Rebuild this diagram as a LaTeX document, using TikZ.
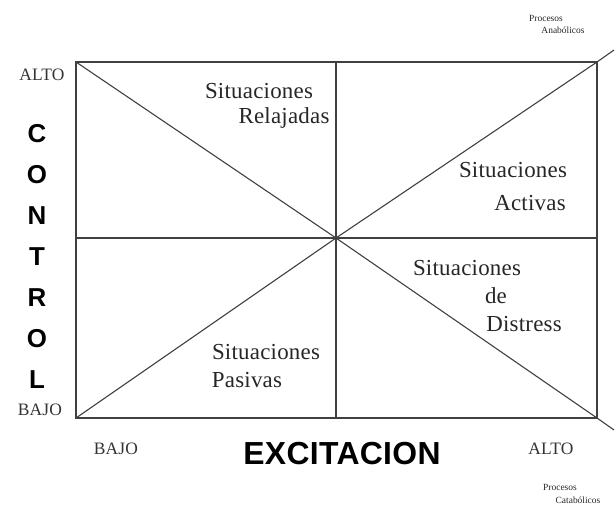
\documentclass[tikz,border=0pt]{standalone}
\usepackage{fontspec}
\setmainfont{Liberation Serif}
\newfontfamily\labfont[LetterSpace=1]{Liberation Serif}
\newfontfamily\boldsans[LetterSpace=1]{Liberation Sans}
\begin{document}
\begin{tikzpicture}[x=1bp,y=-1bp,
  frame/.style={draw=black!75,line width=1.4bp},
  diag/.style={draw=black!75,line width=1.1bp},
  region/.style={font=\labfont\fontsize{23}{27}\selectfont,inner sep=0pt,text=black!85},
  axislab/.style={font=\labfont\fontsize{17.5}{20}\selectfont,inner sep=0pt,text=black!80},
  big/.style={font=\boldsans\bfseries\fontsize{32}{35}\selectfont,inner sep=0pt},
  ctl/.style={font=\boldsans\bfseries\fontsize{26}{29}\selectfont,inner sep=0pt},
  tiny/.style={font=\fontsize{9.5}{11}\selectfont,inner sep=0pt,text=black!85}]
\useasboundingbox (0,0) rectangle (616,506);
% corners
\coordinate (tl) at (76,62);
\coordinate (tr) at (597,62);
\coordinate (bl) at (76,418);
\coordinate (br) at (597,418);
\coordinate (tm) at (336,62);
\coordinate (bm) at (336,418);
\coordinate (lm) at (76,238);
\coordinate (rm) at (597,238);
\coordinate (c) at (336,238);
\coordinate (etr) at (614,50);
\coordinate (ebr) at (614,430);
% frame
\draw[frame] (tl) rectangle (br);
\draw[frame] (tm) -- (bm);
\draw[frame] (lm) -- (rm);
% diagonals
\draw[diag] (tl) -- (c) -- (br) -- (ebr);
\draw[diag] (bl) -- (c) -- (tr) -- (etr);
% region labels
\node[region] (r1a) at (259,91) {Situaciones};
\node[region] (r1b) at (284,118) {Relajadas};
\node[region] (r2a) at (513,170) {Situaciones};
\node[region] (r2b) at (530,203) {Activas};
\node[region] (r3a) at (467,268) {Situaciones};
\node[region] (r3b) at (496,296) {de};
\node[region] (r3c) at (524,324) {Distress};
\node[region] (r4a) at (266,352) {Situaciones};
\node[region] (r4b) at (247,380) {Pasivas};
% axis labels
\node[axislab] (altoL) at (42,75) {ALTO};
\node[axislab] (bajoL) at (40,410) {BAJO};
\node[axislab] (bajoB) at (116,449) {BAJO};
\node[axislab] (altoB) at (551,449) {ALTO};
\node[big] (exc) at (342,454) {EXCITACION};
\foreach \l/\yy [count=\i] in {C/134,O/175,N/216,T/257,R/298,O/339,L/380}
  \node[ctl] (ctl\i) at (37,\yy) {\l};
% processes
\node[tiny] (pa1) at (546,18) {Procesos};
\node[tiny] (pa2) at (563,30) {Anabólicos};
\node[tiny] (pc1) at (560,487) {Procesos};
\node[tiny] (pc2) at (578,500) {Catabólicos};
\end{tikzpicture}
\end{document}
